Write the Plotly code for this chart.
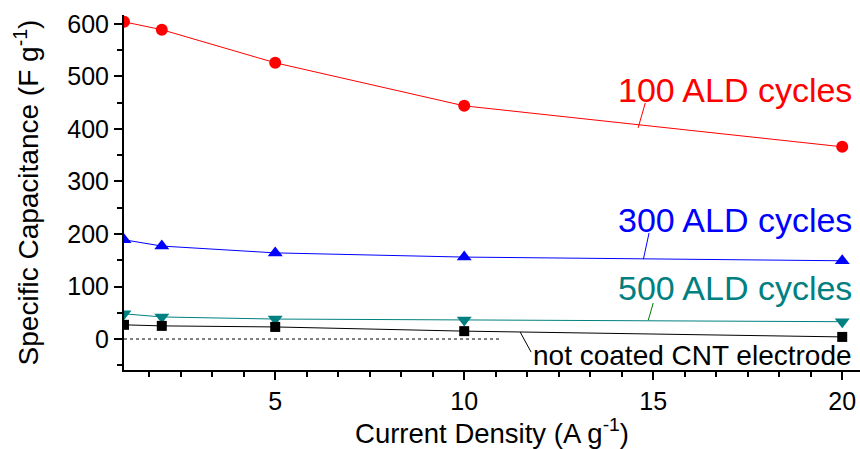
import plotly.graph_objects as go

current_density = [1, 2, 5, 10, 20]
cap_100 = [604, 589, 526, 444, 366]
cap_300 = [189, 177, 164, 156, 149]
cap_500 = [48, 42, 38, 36, 33]
cap_uncoated = [27, 25, 23, 15, 4]

series_names = ["100 ALD cycles", "300 ALD cycles", "500 ALD cycles", "not coated CNT electrode"]
series_values = [cap_100, cap_300, cap_500, cap_uncoated]
series_colors = ["#FF0000", "#0000FF", "#008080", "#000000"]
series_symbols = ["circle", "triangle-up", "triangle-down", "square"]
series_sizes = [12, 13, 13, 10]

zero_line_x = [1, 11]
zero_line_y = [0, 0]

FONT = "Liberation Sans, Arial, sans-serif"

fig = go.Figure()
for name, vals, col, sym, sz in zip(series_names, series_values, series_colors, series_symbols, series_sizes):
    fig.add_trace(go.Scatter(
        x=current_density, y=vals, mode="lines+markers", name=name,
        line=dict(color=col, width=1),
        marker=dict(color=col, symbol=sym, size=sz),
        cliponaxis=True, showlegend=False,
    ))

fig.add_trace(go.Scatter(
    x=zero_line_x, y=zero_line_y, mode="lines",
    line=dict(color="black", width=1, dash="3px,3px"),
    showlegend=False,
))

# labels
labels = [
    ("100 ALD cycles", 20.3, 474, "#FF0000", 34),
    ("300 ALD cycles", 20.3, 227, "#0000FF", 34),
    ("500 ALD cycles", 20.3, 97, "#008080", 34),
    ("not coated CNT electrode", 20.3, -32, "#000000", 28),
]
for txt, x, y, col, fs in labels:
    fig.add_annotation(x=x, y=y, xref="x", yref="y", text=txt, showarrow=False,
                       xanchor="right", yanchor="middle",
                       font=dict(family=FONT, size=fs, color=col))

leaders = [
    ((14.79, 449.5), (14.60, 402), "#FF0000"),
    ((14.89, 202), (14.74, 152), "#0000FF"),
    ((15.0, 68.6), (14.87, 36), "#008000"),
    ((11.48, 13.3), (11.77, -25), "#000000"),
]
for (x0, y0), (x1, y1), col in leaders:
    fig.add_shape(type="line", xref="x", yref="y", x0=x0, y0=y0, x1=x1, y1=y1,
                  line=dict(color=col, width=1))

fig.update_layout(
    width=860, height=449,
    margin=dict(l=124, r=0, t=15, b=79),
    paper_bgcolor="white", plot_bgcolor="white",
    font=dict(family=FONT, color="black"),
)
fig.update_xaxes(
    range=[1, 20.47], tick0=0, dtick=5,
    showgrid=False, zeroline=False,
    showline=True, linecolor="black", linewidth=2,
    ticks="outside", ticklen=8, tickwidth=1.5, tickcolor="black",
    tickfont=dict(size=25, family=FONT),
    minor=dict(dtick=5/6, tick0=0, ticks="outside", ticklen=5, tickwidth=1.5, tickcolor="black"),
    title=dict(text="Current Density (A g<sup>-1</sup>)", font=dict(size=27.5, family=FONT), standoff=0),
)
fig.update_yaxes(
    range=[-59, 617], tick0=0, dtick=100,
    showgrid=False, zeroline=False,
    showline=True, linecolor="black", linewidth=2,
    ticks="outside", ticklen=8, tickwidth=1.5, tickcolor="black",
    tickfont=dict(size=25, family=FONT),
    minor=dict(dtick=50, tick0=0, ticks="outside", ticklen=5, tickwidth=1.5, tickcolor="black"),
    title=dict(text="Specific Capacitance (F g<sup>-1</sup>)", font=dict(size=28, family=FONT), standoff=20),
)

fig.write_html("out.html", config={"displayModeBar": False},
               post_script="document.body.style.margin='0';document.body.style.overflow='hidden';")
